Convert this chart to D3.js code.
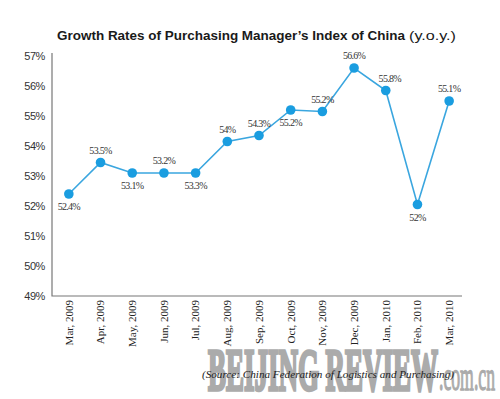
<!DOCTYPE html>
<html>
<head>
<meta charset="utf-8">
<script src="https://cdn.jsdelivr.net/npm/d3@7/dist/d3.min.js"></script>
<style>
  body { margin: 0; background: #fff; }
  svg { display: block; }
  .ytick text { font-family: "Liberation Sans Narrow", "Liberation Sans", Arial, sans-serif; font-size: 11px; fill: #333; letter-spacing: -0.4px; }
  .xtick text { font-family: "Liberation Serif", "Times New Roman", serif; font-size: 11px; fill: #222; }
  .vlabel { font-family: "Liberation Serif", "Times New Roman", serif; font-size: 10px; fill: #333; letter-spacing: -0.7px; }
</style>
</head>
<body>
<svg id="chart" width="500" height="399"></svg>
<script>
// PMI growth, Mar 2009 - Mar 2010
const months = ["Mar, 2009", "Apr, 2009", "May, 2009", "Jun, 2009", "Jul, 2009", "Aug, 2009",
  "Sep, 2009", "Oct, 2009", "Nov, 2009", "Dec, 2009", "Jan, 2010", "Feb, 2010", "Mar, 2010"];
// where the dots sit in the picture
const values = [52.4, 53.45, 53.1, 53.1, 53.1, 54.15, 54.35, 55.2, 55.15, 56.6, 55.85, 52.05, 55.5];
// what the printed labels say
const labels = ["52.4%", "53.5%", "53.1%", "53.2%", "53.3%", "54%", "54.3%",
  "55.2%", "55.2%", "56.6%", "55.8%", "52%", "55.1%"];
const yTicks = [49, 50, 51, 52, 53, 54, 55, 56, 57];
const labelBelow = new Set([0, 2, 4, 7, 11]);

const svg = d3.select("#chart");
const plotL = 52, plotR = 462, plotT = 56, plotB = 296;

const x = d3.scaleBand().domain(months).range([53, 465]);
const y = d3.scaleLinear().domain([49, 57]).range([plotB, plotT]);
const cx = d => x(d) + x.bandwidth() / 2;

// watermark (sits behind everything), stretched tall and heavy like the original
svg.append("text")
  .attr("transform", "translate(208,390) scale(1,2.1)")
  .attr("textLength", 230).attr("lengthAdjust", "spacingAndGlyphs")
  .style("font-family", "Liberation Serif, serif").style("font-weight", "bold")
  .style("font-size", "28px").style("fill", "#ababab")
  .style("stroke", "#ababab").style("stroke-width", 1.6)
  .text("BEIJING REVIEW");
svg.append("text")
  .attr("transform", "translate(439,390) scale(1,2.2)")
  .attr("textLength", 56).attr("lengthAdjust", "spacingAndGlyphs")
  .style("font-family", "Liberation Serif, serif")
  .style("font-size", "19px").style("fill", "#ababab")
  .style("stroke", "#ababab").style("stroke-width", 0.6)
  .text(".com.cn");

// title
svg.append("text")
  .attr("x", 57).attr("y", 40)
  .attr("textLength", 348).attr("lengthAdjust", "spacingAndGlyphs")
  .style("font-family", "Liberation Sans, Arial, sans-serif").style("font-weight", "bold")
  .style("font-size", "13px").style("fill", "#1a1a1a")
  .text("Growth Rates of Purchasing Manager\u2019s Index of China");
svg.append("text")
  .attr("x", 409).attr("y", 40)
  .attr("textLength", 47).attr("lengthAdjust", "spacingAndGlyphs")
  .style("font-family", "Liberation Sans Narrow, Liberation Sans, Arial, sans-serif")
  .style("font-size", "13px").style("fill", "#1a1a1a")
  .text("(y.o.y.)");

// y axis
const yAxis = svg.append("g").attr("class", "ytick")
  .attr("transform", `translate(${plotL},0)`)
  .call(d3.axisLeft(y).tickValues(yTicks).tickSize(0).tickPadding(7).tickFormat(d => d + "%"));
yAxis.select(".domain").remove();

// x axis
const xAxis = svg.append("g").attr("class", "xtick")
  .attr("transform", `translate(0,${plotB})`)
  .call(d3.axisBottom(x).tickSize(0));
xAxis.select(".domain").remove();
xAxis.selectAll("text")
  .attr("transform", "rotate(-90)")
  .attr("text-anchor", "end")
  .attr("x", -4).attr("y", 0).attr("dy", "0.35em");

// axis lines
svg.append("path")
  .attr("d", `M${plotL},${plotT - 3}V${plotB}H${plotR}`)
  .attr("fill", "none").attr("stroke", "#777").attr("stroke-width", 1.2);

// line + dots
const line = d3.line().x((d, i) => cx(months[i])).y(d => y(d));
svg.append("path").datum(values)
  .attr("d", line)
  .attr("fill", "none").attr("stroke", "#3aa6df").attr("stroke-width", 1.6);

svg.append("g").selectAll("circle")
  .data(values)
  .join("circle")
  .attr("cx", (d, i) => cx(months[i]))
  .attr("cy", d => y(d))
  .attr("r", 4.8)
  .attr("fill", "#1a9de0");

svg.append("g").selectAll("text")
  .data(values)
  .join("text")
  .attr("class", "vlabel")
  .attr("text-anchor", "middle")
  .attr("x", (d, i) => cx(months[i]) + (i === 10 ? 4 : 0))
  .attr("y", (d, i) => y(d) + (labelBelow.has(i) ? 16 : -9))
  .text((d, i) => labels[i]);

// source note
svg.append("text")
  .attr("x", 202).attr("y", 378)
  .attr("textLength", 252).attr("lengthAdjust", "spacingAndGlyphs")
  .style("font-family", "Liberation Serif, serif").style("font-style", "italic")
  .style("font-size", "11px").style("fill", "#222")
  .text("(Source: China Federation of Logistics and Purchasing)");
</script>
</body>
</html>
